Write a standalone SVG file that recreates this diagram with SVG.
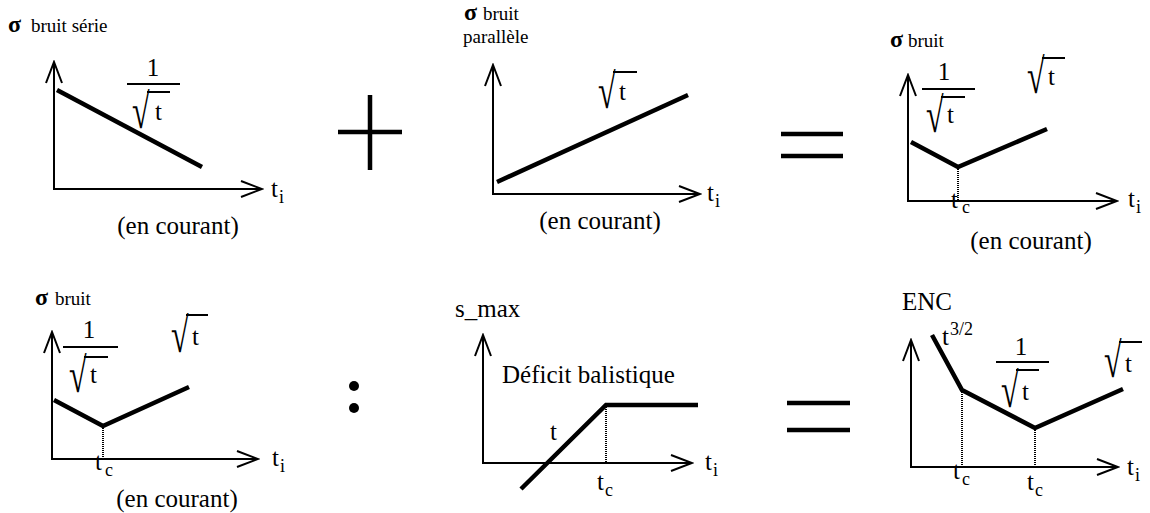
<svg xmlns="http://www.w3.org/2000/svg" width="1150" height="513" viewBox="0 0 1150 513" font-family="'Liberation Serif','Times New Roman',serif">
<style>
text{font-family:"Liberation Serif","Times New Roman",serif;fill:#000}
.t{font-size:25px}
.m{text-anchor:middle}
.sub{font-size:18px}
.sm{font-size:19px}
.sig{font-size:24px;font-weight:bold}
.rad{font-size:40px}
.ax{stroke:#000;stroke-width:2;fill:none;marker-end:url(#ah)}
.cv{stroke:#000;stroke-width:4.5;fill:none;stroke-linejoin:miter}
.ln{stroke:#000;stroke-width:2;fill:none}
.dt{stroke:#000;stroke-width:2;stroke-dasharray:1 1;fill:none}
.op{stroke:#000;stroke-width:4.5;fill:none}
</style>
<defs>
<marker id="ah" markerUnits="userSpaceOnUse" markerWidth="24" markerHeight="20" refX="22" refY="10" orient="auto" viewBox="0 0 24 20">
<path d="M1,2 L22,10 L1,18" fill="none" stroke="#000" stroke-width="2"/>
</marker>
</defs>
<rect width="1150" height="513" fill="#fff"/>

<g id="p1">
<text class="sig" x="8" y="32">σ</text><text class="sm" x="31" y="32">bruit série</text>
<path class="ax" d="M54,189 V62"/><path class="ax" d="M53,189 H262"/>
<path class="cv" d="M57,90 L202,167"/>
<text class="t m" x="153" y="76">1</text>
<path class="ln" d="M127,84 H180"/>
<text class="rad" transform="translate(132,128) scale(0.8,1.23)">√</text><path class="ln" d="M147,92 H170"/>
<text class="t" x="155" y="120">t</text>
<text class="t" x="271" y="197">t</text><text class="sub" x="279" y="203">i</text>
<text class="t m" x="178" y="234">(en courant)</text>
</g>

<g id="p2">
<text class="sig" x="464" y="20">σ</text><text class="sm" x="483" y="20">bruit</text>
<text class="sm" x="463" y="43">parallèle</text>
<path class="ax" d="M493,194 V65"/><path class="ax" d="M492,194 H700"/>
<path class="cv" d="M497,182 L688,95"/>
<text class="rad" transform="translate(598,108) scale(0.8,1.23)">√</text><path class="ln" d="M613,72 H637"/>
<text class="t" x="619" y="100">t</text>
<text class="t" x="707" y="201">t</text><text class="sub" x="715" y="207">i</text>
<text class="t m" x="600" y="229">(en courant)</text>
</g>

<g id="p3">
<text class="sig" x="890" y="47">σ</text><text class="sm" x="908" y="47">bruit</text>
<path class="ax" d="M908,201 V75"/><path class="ax" d="M907,201 H1117"/>
<path class="cv" d="M911,142 L958,167 L1047,129"/>
<path class="dt" d="M958,167 V201"/>
<text class="t m" x="944" y="80">1</text>
<path class="ln" d="M922,89 H975"/>
<text class="rad" transform="translate(926,132) scale(0.8,1.23)">√</text><path class="ln" d="M941,97 H965"/>
<text class="t" x="947" y="123">t</text>
<text class="rad" transform="translate(1027,93) scale(0.8,1.23)">√</text><path class="ln" d="M1042,58 H1065"/>
<text class="t" x="1048" y="85">t</text>
<text class="t" x="951" y="208">t</text><text class="sub" x="962" y="213">c</text>
<text class="t" x="1128" y="207">t</text><text class="sub" x="1136" y="213">i</text>
<text class="t m" x="1031" y="249">(en courant)</text>
</g>

<g id="p4">
<text class="sig" x="35" y="305">σ</text><text class="sm" x="55" y="305">bruit</text>
<path class="ax" d="M52,459 V332"/><path class="ax" d="M51,459 H258"/>
<path class="cv" d="M54,400 L103,426 L189,387"/>
<path class="dt" d="M103,426 V459"/>
<text class="t m" x="89" y="338">1</text>
<path class="ln" d="M63,347 H118"/>
<text class="rad" transform="translate(69,392) scale(0.8,1.23)">√</text><path class="ln" d="M84,357 H108"/>
<text class="t" x="90" y="383">t</text>
<text class="rad" transform="translate(171,352) scale(0.8,1.23)">√</text><path class="ln" d="M186,315 H208"/>
<text class="t" x="192" y="345">t</text>
<text class="t" x="95" y="470">t</text><text class="sub" x="105" y="476">c</text>
<text class="t" x="272" y="466">t</text><text class="sub" x="280" y="472">i</text>
<text class="t m" x="177" y="507">(en courant)</text>
</g>

<g id="p5">
<text class="t" x="455" y="317">s_max</text>
<path class="ax" d="M483,463 V335"/><path class="ax" d="M482,463 H692"/>
<path class="cv" d="M521,489 L606,405 L698,405"/>
<path class="dt" d="M606,405 V463"/>
<text class="t" x="502" y="383">Déficit balistique</text>
<text class="t" x="550" y="440">t</text>
<text class="t" x="597" y="490">t</text><text class="sub" x="605" y="496">c</text>
<text class="t" x="705" y="470">t</text><text class="sub" x="713" y="476">i</text>
</g>

<g id="p6">
<text class="t" x="902" y="310">ENC</text>
<path class="ax" d="M911,467 V340"/><path class="ax" d="M910,467 H1118"/>
<path class="cv" d="M932,335 L962,390 L1035,428 L1123,389"/>
<path class="dt" d="M962,390 V467"/><path class="dt" d="M1035,428 V467"/>
<text class="t" x="942" y="345">t</text><text class="sub" x="950" y="335">3/2</text>
<text class="t m" x="1021" y="355">1</text>
<path class="ln" d="M996,362 H1049"/>
<text class="rad" transform="translate(1001,407) scale(0.8,1.23)">√</text><path class="ln" d="M1016,370 H1039"/>
<text class="t" x="1022" y="400">t</text>
<text class="rad" transform="translate(1104,377) scale(0.8,1.23)">√</text><path class="ln" d="M1119,342 H1142"/>
<text class="t" x="1125" y="372">t</text>
<text class="t" x="953" y="479">t</text><text class="sub" x="962" y="485">c</text>
<text class="t" x="1027" y="490">t</text><text class="sub" x="1035" y="496">c</text>
<text class="t" x="1127" y="475">t</text><text class="sub" x="1135" y="481">i</text>
</g>

<g id="operators">
<path class="op" d="M370,95 V170 M338,132 H402"/>
<path class="op" d="M781,134 H843 M781,156 H843"/>
<circle cx="354" cy="386" r="5" fill="#000"/><circle cx="354" cy="408" r="5" fill="#000"/>
<path class="op" d="M787,403 H850 M787,430 H850"/>
</g>
</svg>
